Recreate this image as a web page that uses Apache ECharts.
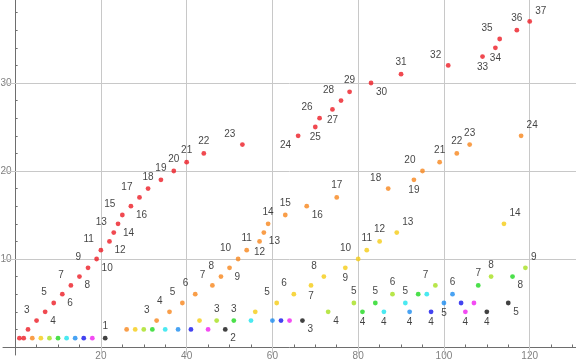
<!DOCTYPE html>
<html>
<head>
<meta charset="utf-8">
<script src="https://cdn.jsdelivr.net/npm/echarts@6/dist/echarts.min.js"></script>
<style>
html,body{margin:0;padding:0;background:#fff;}
#chart{width:576px;height:363px;}
</style>
</head>
<body>
<div id="chart"></div>
<script>
// ---- data ----
const redX = [1,2,3,5,7,9,11,13,15,17,19,20,22,23,24,25,27,29,31,34,37,40,44,53,66,70,71,74,76,78,83,90,101,109,112,113,117,120];
const redY = [1,1,2,3,4,5,6,7,8,9,10,11,12,13,14,15,16,17,18,19,20,21,22,23,24,25,26,27,28,29,30,31,32,33,34,35,36,37];
const orangeX = [4,26,33,36,39,42,46,48,50,52,54,57,58,59,63,68,75,87,93,95,99,103,106,118];
const orangeY = [1,2,3,4,5,6,7,8,9,10,11,12,13,14,15,16,17,18,19,20,21,22,23,24];
const yellowX = [6,28,43,56,61,65,69,72,77,80,82,85,89,114];
const yellowY = [1,2,3,4,5,6,7,8,9,10,11,12,13,14];
const limeX = [8,30,47,73,79,88,98,111,119];
const limeY = [1,2,3,4,5,6,7,8,9];
const greenX = [10,32,51,81,84,94,108,116];
const greenY = [1,2,3,4,5,6,7,8];
const cyanX = [12,35,55,86,91,96];
const cyanY = [1,2,3,4,5,6];
const azureX = [14,38,60,92,100,102];
const azureY = [1,2,3,4,5,6];
const blueX = [16,41,62,97,104];
const blueY = [1,2,3,4,5];
const magentaX = [18,45,64,105,107];
const magentaY = [1,2,3,4,5];
const blackX = [21,49,67,110,115];
const blackY = [1,2,3,4,5];

const xTickLabels = [20,40,60,80,100,120];
const yTickLabels = [10,20,30];
const xMinorTicks = [0,5,10,15,20,25,30,35,40,45,50,55,60,65,70,75,80,85,90,95,100,105,110,115,120,125,130];
const yMinorTicks = [0,2,4,6,8,10,12,14,16,18,20,22,24,26,28,30,32,34,36,38];

// ---- label placement (style) ----
const redPos = ['','','','ul','lr','ul','lr','ul','lr','ul','lr','ul','lr','ul','lr','ul','lr','ul','u','u','u','u','u','ul','ll','d','ul','d','ul','u','lr','u','ul','d','d','ul','u','ur'];
const orangePos = ['','','ul','ul','ul','ul','ul','ul','lr','ul','u','d','lr','u','u','lr','u','ul','d','ul','u','u','u','ur'];
const yellowPos = ['','','','','ul','ul','d','ul','d','ul','u','u','ur','ur'];
const limePos = ['','','u','lr','u','u','ul','u','ur'];
const greenPos = ['','','u','d','u','','u','lr'];
const cyanPos = ['','','','d','u',''];
const azurePos = ['','','','d','d','u'];
const bluePos = ['','','','d',''];
const magentaPos = ['','','','d',''];
const blackPos = ['u','lr','lr','d','lr'];

const FONT = "'Liberation Sans', Arial, sans-serif";
const placeMap = {
  ul: {align:'right', offset:[-7,-10.5]},
  lr: {align:'left', offset:[5,9]},
  u:  {align:'center', offset:[0,-11.7]},
  d:  {align:'center', offset:[0,10.4]},
  ur: {align:'left', offset:[5.5,-10.6]},
  ll: {align:'right', offset:[-7,9]}
};

function makeSeries(xs, ys, pos, color) {
  return {
    type: 'scatter',
    xAxisIndex: 0, yAxisIndex: 0,
    symbol: 'circle',
    symbolSize: 4.8,
    itemStyle: {color: color},
    z: 3,
    silent: true,
    data: xs.map((x, i) => {
      const p = placeMap[pos[i]];
      const item = {value: [x, ys[i]]};
      if (p) {
        item.label = {
          show: true, position: 'inside', align: p.align, verticalAlign: 'middle',
          offset: p.offset, color: '#111', fontSize: 10, fontFamily: FONT,
          formatter: String(ys[i])
        };
      } else {
        item.label = {show: false};
      }
      return item;
    })
  };
}

const gridLines = xTickLabels.map(v => ({xAxis: v})).concat(yTickLabels.map(v => ({yAxis: v})));

const series = [
  makeSeries(redX, redY, redPos, '#ec1c24'),
  makeSeries(orangeX, orangeY, orangePos, '#f7861c'),
  makeSeries(yellowX, yellowY, yellowPos, '#f5cc14'),
  makeSeries(limeX, limeY, limePos, '#a6e01e'),
  makeSeries(greenX, greenY, greenPos, '#1ed81e'),
  makeSeries(cyanX, cyanY, cyanPos, '#1ee4ee'),
  makeSeries(azureX, azureY, azurePos, '#1c8cf0'),
  makeSeries(blueX, blueY, bluePos, '#1414ec'),
  makeSeries(magentaX, magentaY, magentaPos, '#f01ef0'),
  makeSeries(blackX, blackY, blackPos, '#111111')
];
series[0].markLine = {
  silent: true, symbol: ['none','none'], z: 1, animation: false,
  label: {show: false},
  lineStyle: {color: '#c8c8c8', width: 1, type: 'solid'},
  emphasis: {disabled: true},
  data: gridLines
};

// layout geometry
const GL = 3, GR = 0, GT = 0, GB = 8, W = 576, H = 363;
const XMIN = -2.83, XMAX = 130.8, YMIN = -0.91, YMAX = 39.43;
const gw = W - GL - GR, gh = H - GT - GB;
// shift axes so they cross at the origin
const xAxisOffset = -((0 - YMIN) / (YMAX - YMIN) * gh);
const yAxisOffset = -((0 - XMIN) / (XMAX - XMIN) * gw);

const axisColor = '#6e6e6e';
const labelColor = '#808080';

const option = {
  animation: false,
  grid: {left: GL, right: GR, top: GT, bottom: GB, containLabel: false, outerBoundsMode: 'none'},
  xAxis: [
    {
      type: 'value', position: 'bottom', min: XMIN, max: XMAX, offset: xAxisOffset,
      axisLine: {show: true, onZero: false, lineStyle: {color: axisColor, width: 1}},
      axisTick: {show: true, inside: false, length: 4, customValues: xTickLabels, lineStyle: {color: axisColor}},
      axisLabel: {show: true, customValues: xTickLabels, margin: 4, color: labelColor, fontSize: 10, fontFamily: FONT},
      splitLine: {show: false}
    },
    {
      type: 'value', position: 'bottom', min: XMIN, max: XMAX, offset: xAxisOffset,
      axisLine: {show: false, onZero: false},
      axisTick: {show: true, inside: true, length: 2.5, customValues: xMinorTicks, lineStyle: {color: axisColor}},
      axisLabel: {show: false},
      splitLine: {show: false}
    }
  ],
  yAxis: [
    {
      type: 'value', position: 'left', min: YMIN, max: YMAX, offset: yAxisOffset,
      axisLine: {show: true, onZero: false, lineStyle: {color: axisColor, width: 1}},
      axisTick: {show: true, inside: false, length: 4, customValues: yTickLabels, lineStyle: {color: axisColor}},
      axisLabel: {show: false},
      splitLine: {show: false}
    },
    {
      type: 'value', position: 'left', min: YMIN, max: YMAX, offset: yAxisOffset,
      axisLine: {show: false, onZero: false},
      axisTick: {show: true, inside: true, length: 2.5, customValues: yMinorTicks, lineStyle: {color: axisColor}},
      axisLabel: {show: false},
      splitLine: {show: false}
    },
    {
      // tick labels of the vertical axis, sitting at the grid edge, pulled right
      type: 'value', position: 'left', min: YMIN, max: YMAX, offset: 0,
      axisLine: {show: false, onZero: false},
      axisTick: {show: false},
      axisLabel: {show: true, customValues: yTickLabels, margin: -8.5, align: 'right', color: labelColor, fontSize: 10, fontFamily: FONT},
      splitLine: {show: false}
    }
  ],
  series: series
};

const chart = echarts.init(document.getElementById('chart'), null, {renderer: 'canvas'});
chart.setOption(option);
</script>
</body>
</html>
